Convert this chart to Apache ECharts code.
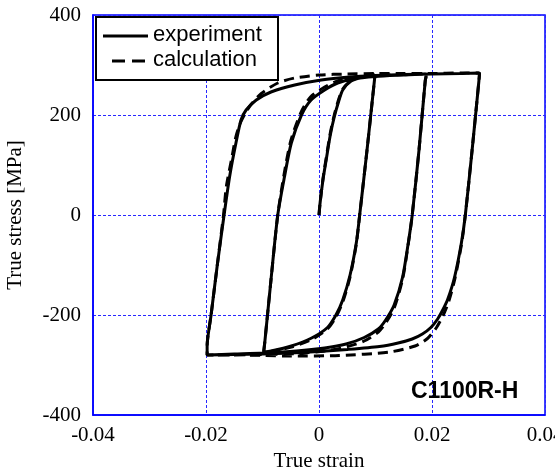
<!DOCTYPE html>
<html>
<head>
<meta charset="utf-8">
<script src="https://cdn.jsdelivr.net/npm/echarts@6/dist/echarts.min.js"></script>
<style>
html,body{margin:0;padding:0;background:#fff;}
#chart{width:555px;height:470px;}
</style>
</head>
<body>
<div id="chart"></div>
<script>
// Axis ticks
const xTicks = [-0.04, -0.02, 0, 0.02, 0.04];
const yTicks = [-400, -200, 0, 200, 400];
const seriesNames = ['experiment', 'calculation'];
const specimenLabel = 'C1100R-H';

// Experiment branches: [strain, stress MPa]
const expInitial = [[0,0],[0.0002,25],[0.0007,70],[0.0013,112],[0.002,160],[0.0027,196],[0.0035,228],[0.0042,250],[0.0057,268],[0.008,276],[0.0099,279]];
const expDown1 = [[0.0099,279],[0.0098,268],[0.0085,130],[0.0072,0],[0.0066,-56],[0.0055,-120],[0.0042,-170],[0.003,-200],[0.0015,-225],[-0.0013,-246],[-0.0049,-262],[-0.0085,-272],[-0.0098,-274]];
const expUp1 = [[-0.0098,-274],[-0.0096,-255],[-0.0085,-130],[-0.0073,0],[-0.0061,77],[-0.0049,144],[-0.0031,200],[-0.0014,230],[0.001,250],[0.0033,264],[0.006,272],[0.01,277],[0.015,280],[0.0188,282],[0.019,281]];
const expDown2 = [[0.019,281],[0.0188,268],[0.0177,130],[0.0165,0],[0.0158,-56],[0.0148,-124],[0.0133,-180],[0.0118,-210],[0.0105,-228],[0.008,-245],[0.0048,-258],[0.001,-266],[-0.004,-272],[-0.01,-276],[-0.015,-278],[-0.0198,-280]];
const expUp2 = [[-0.0198,-280],[-0.0198,-262],[-0.0191,-200],[-0.018,-100],[-0.0168,0],[-0.0158,78],[-0.0147,144],[-0.0138,190],[-0.0129,210],[-0.0111,230],[-0.0085,246],[-0.0043,260],[0.0004,270],[0.0054,276],[0.01,279],[0.015,281],[0.02,282],[0.025,283],[0.0282,284],[0.0284,283]];
const expDown3 = [[0.0284,283],[0.0283,268],[0.0271,130],[0.0259,0],[0.0252,-56],[0.024,-124],[0.0228,-168],[0.0219,-190],[0.021,-208],[0.0198,-225],[0.0183,-238],[0.0165,-248],[0.014,-256],[0.0107,-263],[0.005,-269],[0,-273],[-0.005,-276],[-0.01,-278],[-0.015,-279],[-0.0198,-280]];

// Calculation branches: [strain, stress MPa]
const calcInitial = [[0,0],[0.0002,25],[0.0007,72],[0.0013,116],[0.002,164],[0.0027,200],[0.0035,232],[0.0042,252],[0.0057,269],[0.008,277],[0.0099,280]];
const calcDown1 = [[0.0099,280],[0.0098,268],[0.0085,130],[0.0072,0],[0.0066,-58],[0.0055,-124],[0.0042,-174],[0.003,-204],[0.0015,-228],[-0.0013,-249],[-0.0049,-264],[-0.0085,-273],[-0.0098,-275]];
const calcUp1 = [[-0.0098,-275],[-0.0096,-255],[-0.0085,-130],[-0.0073,0],[-0.0062,80],[-0.005,148],[-0.0032,205],[-0.0015,236],[0.001,256],[0.0033,268],[0.006,275],[0.01,279],[0.015,281],[0.0188,282],[0.019,281]];
const calcDown2 = [[0.019,281],[0.0188,268],[0.0177,130],[0.0165,0],[0.0158,-58],[0.0148,-128],[0.0133,-186],[0.0118,-216],[0.0105,-234],[0.008,-252],[0.0048,-264],[0.001,-272],[-0.004,-277],[-0.01,-279],[-0.015,-280],[-0.0198,-280]];
const calcUp2 = [[-0.0198,-280],[-0.0198,-262],[-0.0191,-200],[-0.018,-100],[-0.0169,0],[-0.0164,57],[-0.0155,110],[-0.0147,157],[-0.0138,187],[-0.0123,217],[-0.0102,243],[-0.0073,264],[-0.0043,274],[0,280],[0.005,282],[0.01,283],[0.015,283],[0.02,283],[0.025,284],[0.0282,284],[0.0284,283]];
const calcDown3 = [[0.0284,283],[0.0283,268],[0.0271,130],[0.0259,0],[0.0252,-60],[0.024,-130],[0.0229,-175],[0.022,-200],[0.0208,-225],[0.0192,-247],[0.017,-262],[0.0125,-274],[0.0036,-281],[-0.005,-282],[-0.01,-281],[-0.015,-280],[-0.0198,-280]];

function joinBranches(list) {
  const out = [];
  list.forEach((b, i) => { (i === 0 ? b : b.slice(1)).forEach(p => out.push(p)); });
  return out;
}
const expData = joinBranches([expInitial, expDown1, expUp1, expDown2, expUp2, expDown3]);
const calcData = joinBranches([calcInitial, calcDown1, calcUp1, calcDown2, calcUp2, calcDown3]);

const serif = 'Liberation Serif, Times New Roman, serif';
const sansFont = '22px Liberation Sans, Arial, sans-serif';
const blue = '#0000ff';
const gridBlue = '#2828ff';

const chart = echarts.init(document.getElementById('chart'), null, {renderer: 'canvas'});
chart.setOption({
  animation: false,
  backgroundColor: '#ffffff',
  grid: {left: 93, right: 10, top: 15, bottom: 55, show: true, borderColor: blue, borderWidth: 1.5,
         backgroundColor: 'transparent', containLabel: false, outerBoundsMode: 'none'},
  xAxis: {
    type: 'value', min: xTicks[0], max: xTicks[xTicks.length - 1], interval: 0.02,
    name: 'True strain', nameLocation: 'middle', nameGap: 31,
    nameTextStyle: {fontFamily: serif, fontSize: 21, color: '#000'},
    axisLine: {show: true, onZero: false, lineStyle: {color: blue, width: 1.5}},
    axisTick: {show: false},
    axisLabel: {fontFamily: serif, fontSize: 21, color: '#000', margin: 10,
      formatter: v => { const t = xTicks.find(k => Math.abs(k - v) < 1e-9); return t === 0 ? '0' : String(t); }},
    splitLine: {show: true, lineStyle: {color: gridBlue, width: 1, type: [3, 2]}}
  },
  yAxis: {
    type: 'value', min: yTicks[0], max: yTicks[yTicks.length - 1], interval: 200,
    name: 'True stress [MPa]', nameLocation: 'middle', nameGap: 67, nameRotate: 90,
    nameTextStyle: {fontFamily: serif, fontSize: 21, color: '#000'},
    axisLine: {show: true, onZero: false, lineStyle: {color: blue, width: 1.5}},
    axisTick: {show: false},
    axisLabel: {fontFamily: serif, fontSize: 21, color: '#000', margin: 12},
    splitLine: {show: true, lineStyle: {color: gridBlue, width: 1, type: [3, 2]}}
  },
  legend: {show: false},
  graphic: [
    {type: 'rect', left: 95, top: 16, z: 100,
     shape: {width: 182, height: 63}, style: {fill: '#fff', stroke: '#000', lineWidth: 2}},
    {type: 'line', z: 101, shape: {x1: 103, y1: 36, x2: 148, y2: 36}, style: {stroke: '#000', lineWidth: 3}},
    {type: 'line', z: 101, shape: {x1: 112, y1: 61, x2: 148, y2: 61}, style: {stroke: '#000', lineWidth: 3, lineDash: [13, 7]}},
    {type: 'text', left: 153, top: 24, z: 101, style: {text: seriesNames[0], font: sansFont, fill: '#000'}},
    {type: 'text', left: 153, top: 49, z: 101, style: {text: seriesNames[1], font: sansFont, fill: '#000'}},
    {type: 'text', left: 411, top: 380, z: 101,
     style: {text: specimenLabel, font: 'bold 23px Liberation Sans, Arial, sans-serif', fill: '#000'}}
  ],
  series: [
    {name: seriesNames[1], type: 'line', data: calcData, showSymbol: false, symbol: 'none', smooth: 0.25,
     lineStyle: {color: '#000', width: 3, type: [10, 6]}, itemStyle: {color: '#000'}, z: 2},
    {name: seriesNames[0], type: 'line', data: expData, showSymbol: false, symbol: 'none', smooth: 0.25,
     lineStyle: {color: '#000', width: 3, type: 'solid'}, itemStyle: {color: '#000'}, z: 3}
  ]
});
</script>
</body>
</html>
